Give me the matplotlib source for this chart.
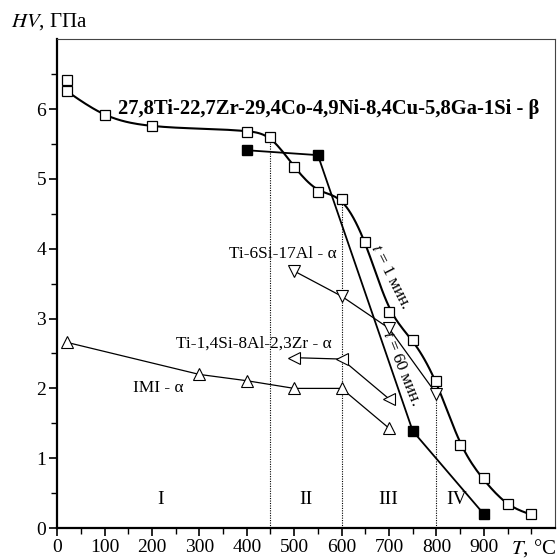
import numpy as np
import matplotlib
matplotlib.use("Agg")
import matplotlib.pyplot as plt
from matplotlib.ticker import FixedLocator

plt.rcParams['font.family'] = ['Liberation Serif', 'DejaVu Serif']
plt.rcParams['mathtext.fontset'] = 'stix'

# main beta alloy, t = 1 min (open squares, smooth curve)
beta_T = [20, 20, 100, 200, 400, 450, 500, 550, 600, 650, 700, 750, 800, 850, 900, 950, 1000]
beta_HV = [6.42, 6.26, 5.92, 5.76, 5.67, 5.60, 5.17, 4.81, 4.71, 4.10, 3.10, 2.70, 2.10, 1.19, 0.71, 0.34, 0.20]

# main beta alloy, t = 60 min (filled squares)
beta60_T = [400, 550, 750, 900]
beta60_HV = [5.41, 5.34, 1.39, 0.20]

# Ti-6Si-17Al - alpha
tsa_T = [500, 600, 700, 800]
tsa_HV = [3.68, 3.32, 2.86, 1.92]

# Ti-1,4Si-8Al-2,3Zr - alpha
tsz_T = [500, 600, 700]
tsz_HV = [2.44, 2.42, 1.85]

# IMI - alpha
imi_T = [20, 300, 400, 500, 600, 700]
imi_HV = [2.66, 2.20, 2.11, 2.00, 2.00, 1.43]

# region borders and labels
border_T = [450, 600, 800]
border_HV = [5.60, 4.71, 2.10]
region_names = ['I', 'II', 'III', 'IV']
region_T = [218, 525, 698, 842]


def smooth_curve(xs, ys, lam=30.0, step=5.0):
    # penalised (Whittaker-type) smoothing curve on a fine grid, drawing only
    x = np.asarray(xs, float)
    y = np.asarray(ys, float)
    grid = np.arange(x[0], x[-1] + step / 2, step)
    n = len(grid)
    W = np.zeros((n, n))
    rhs = np.zeros(n)
    for xi, yi in zip(x, y):
        j = int(round((xi - grid[0]) / step))
        W[j, j] += 1.0
        rhs[j] += yi
    D = np.diff(np.eye(n), 2, axis=0)
    f = np.linalg.solve(W + lam * D.T @ D, rhs)
    return grid, f


fig = plt.figure(figsize=(5.6, 5.6), dpi=100)
ax = fig.add_axes([0.102, 0.057, 0.889, 0.873])

# region borders
for bt, bh in zip(border_T, border_HV):
    ax.plot([bt, bt], [0, bh], color='black', lw=0.8, ls=(0, (1, 1.2)), zorder=1)

cx, cy = smooth_curve(beta_T[1:], beta_HV[1:])
ax.plot([beta_T[0], cx[0]], [beta_HV[0], cy[0]], color='black', lw=1.5, zorder=2)
ax.plot(cx, cy, color='black', lw=1.5, zorder=2)
ax.plot(beta_T, beta_HV, 's', ms=7, mfc='white', mec='black', mew=0.9, zorder=4)

ax.plot(beta60_T, beta60_HV, '-s', color='black', lw=1.3, ms=7, mfc='black', mec='black', zorder=3)

ax.plot(tsa_T, tsa_HV, '-v', color='black', lw=0.9, ms=8, mfc='white', mec='black', mew=0.8, zorder=3)
ax.plot(tsz_T, tsz_HV, '-<', color='black', lw=0.9, ms=8, mfc='white', mec='black', mew=0.8, zorder=3)
ax.plot(imi_T, imi_HV, '-^', color='black', lw=0.9, ms=8, mfc='white', mec='black', mew=0.8, zorder=3)

# labels
ax.text(129, 6.0, '27,8Ti-22,7Zr-29,4Co-4,9Ni-8,4Cu-5,8Ga-1Si - \u03b2',
        fontsize=14.9, fontweight='bold', va='center', ha='left')
ax.text(363, 3.93, 'Ti-6Si-17Al - \u03b1', fontsize=12.4, va='center', ha='left')
ax.text(251, 2.64, 'Ti-1,4Si-8Al-2,3Zr - \u03b1', fontsize=12.4, va='center', ha='left')
ax.text(160, 2.01, 'IMI - \u03b1', fontsize=12.4, va='center', ha='left')
ax.text(702, 3.6, '$t$ = 1 мин.', fontsize=12.4, rotation=-63, va='center', ha='center',
        rotation_mode='anchor')
ax.text(726, 2.29, '$t$ = 60 мин.', fontsize=12.4, rotation=-68, va='center', ha='center',
        rotation_mode='anchor')
for name, rt in zip(region_names, region_T):
    ax.text(rt, 0.41, name, fontsize=14, va='center', ha='center')

ax.set_xlim(0, 1050)
ax.set_ylim(0, 7)
ax.xaxis.set_major_locator(FixedLocator(range(0, 1000, 100)))
ax.xaxis.set_minor_locator(FixedLocator(range(50, 1050, 50)))
ax.yaxis.set_major_locator(FixedLocator(range(0, 7)))
ax.yaxis.set_minor_locator(FixedLocator(np.arange(0.5, 7, 0.5)))
ax.tick_params(which='major', direction='out', length=6, width=1.2, labelsize=14, pad=2)
ax.tick_params(which='minor', direction='out', length=4, width=1.0)

for s in ['left', 'bottom']:
    ax.spines[s].set_linewidth(1.6)
for s in ['top', 'right']:
    ax.spines[s].set_linewidth(0.8)
    ax.spines[s].set_color('#444444')

fig.text(0.02, 0.961, '$HV$, ГПа', fontsize=15, ha='left', va='center')
fig.text(0.912, 0.022, '$T$, °C', fontsize=15, ha='left', va='center')

fig.savefig('out.png', dpi=100)
